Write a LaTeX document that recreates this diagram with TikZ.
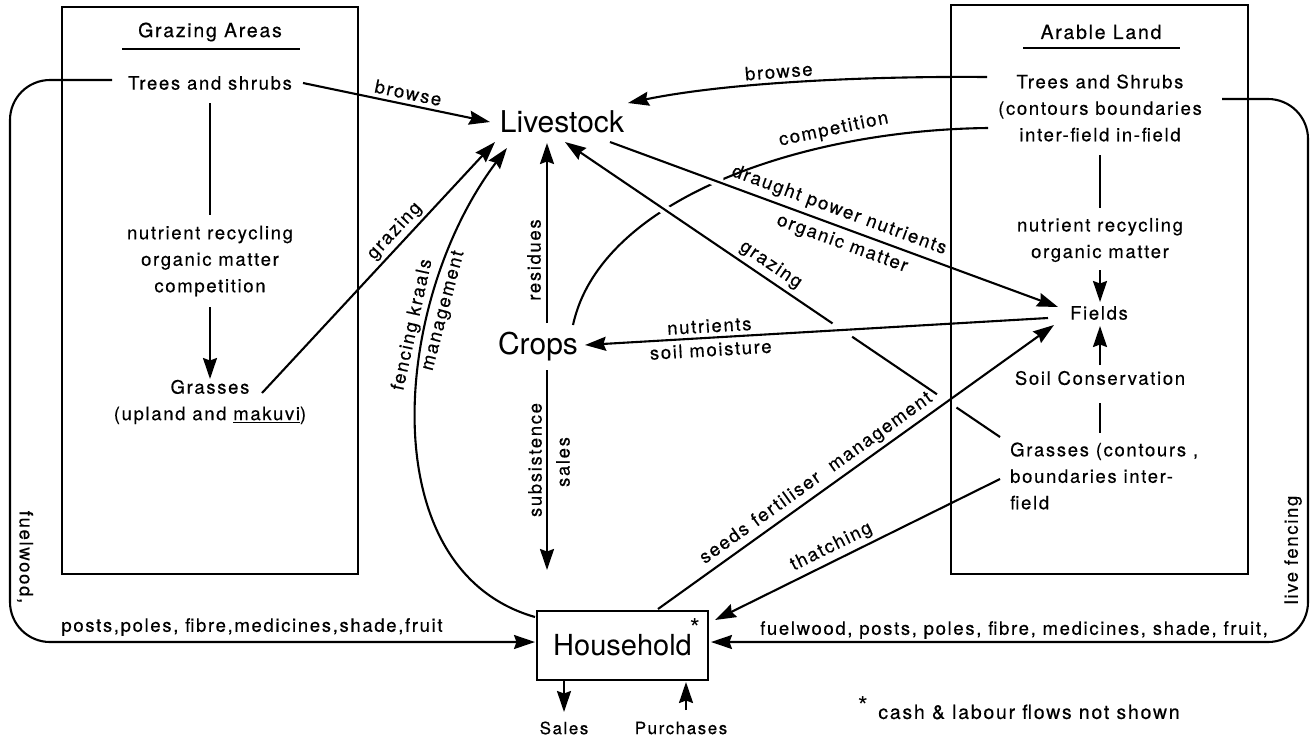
\documentclass[tikz,border=0pt]{standalone}
\usepackage{fontspec}
\setmainfont{TeX Gyre Heros}[LetterSpace=9,FakeBold=0.4]
\newfontfamily\bigf{TeX Gyre Heros}
\usetikzlibrary{arrows.meta,calc}
\begin{document}
\begin{tikzpicture}[x=1pt,y=-1pt,
  every node/.style={inner sep=0pt, font=\fontsize{18.5}{26.5}\selectfont},
  big/.style={font=\bigf\fontsize{30}{34}\selectfont},
  small/.style={font=\fontsize{17}{20}\selectfont},
  ttl/.style={font=\fontsize{19.5}{22}\selectfont},
  note/.style={font=\fontsize{19.5}{22}\selectfont},
  starf/.style={font=\bigf\fontsize{26}{26}\selectfont},
  ln/.style={line width=2.1pt},
  tip/.style={-{Stealth[length=21pt,width=14pt,inset=2.5pt]}},
  arr/.style={line width=2.1pt, tip},
  rarr/.style={line width=2.1pt, {Stealth[length=21pt,width=14pt,inset=2.5pt]}-},
  boxl/.style={line width=2.9pt},
  gapw/.style={draw=white, line width=10pt},
]
\path[use as bounding box, fill=white] (0,0) rectangle (1314,740);

% ---------- text nodes ----------
\node[ttl] (gtitle) at (210,32) {Grazing Areas};
\node[ttl] (atitle) at (1101,32) {Arable Land};
\node (gtrees) at (210,83) {Trees and shrubs};
\node[align=center] (gnut) at (210,261) {nutrient recycling\\organic matter\\competition};
\node[align=center] (ggrass) at (210,402) {Grasses\\(upland and \underline{makuvi})};
\node[align=center] (atrees) at (1100,108) {Trees and Shrubs\\(contours boundaries\\inter-field in-field};
\node[align=center] (anut) at (1100,240) {nutrient recycling\\organic matter};
\node (fields) at (1099,313) {Fields};
\node (soil) at (1100,378) {Soil Conservation};
\node[align=left, anchor=west] (agrass) at (1010,476) {Grasses (contours ,\\boundaries inter-\\field};
\node[big] (livestock) at (562,122) {Livestock};
\node[big] (crops) at (538,347) {Crops};
\node[draw, boxl, minimum width=171pt, minimum height=69pt,
      font=\bigf\fontsize{29}{32}\selectfont] (household) at (622.5,645.5) {Household};
\node[starf] (hstar) at (695,628) {*};
\node[small] (sales) at (564,728) {Sales};
\node[small] (purch) at (681,728) {Purchases};
\node[starf] (nstar) at (863,706) {*};
\node[note] (note) at (1029,712) {cash \& labour flows not shown};

% ---------- underlines ----------
\draw[ln] (122,49) -- (300,49);
\draw[ln] (1023,48) -- (1180,48);

% ---------- endpoint coordinates ----------
\coordinate (gtE) at (303,83);
\coordinate (gtW) at (112,80);
\coordinate (gtS) at (210,103);
\coordinate (gnN) at (210,215);
\coordinate (gnS) at (210,307);
\coordinate (ggN) at (210,379);
\coordinate (ggE) at (262,393);
\coordinate (atW1) at (987,77);
\coordinate (atW2) at (988,128);
\coordinate (atE) at (1222,99);
\coordinate (atS) at (1100,155);
\coordinate (anN) at (1100,208);
\coordinate (anS) at (1100,270);
\coordinate (fdN) at (1100,302);
\coordinate (fdS) at (1100,326);
\coordinate (soN) at (1100,365);
\coordinate (soS) at (1100,403);
\coordinate (agN) at (1100,433);
\coordinate (agNW) at (1000,437);
\coordinate (agW) at (1000,479);
\coordinate (fdW1) at (1058,307);
\coordinate (fdW2) at (1048,318);
\coordinate (fdSW) at (1054,325);
\coordinate (lsW) at (490,122);
\coordinate (lsNE) at (628,103);
\coordinate (lsSW) at (495,142);
\coordinate (lsS1) at (507,148);
\coordinate (lsS2) at (547,143);
\coordinate (lsS3) at (565,142);
\coordinate (lsSE) at (610,142);
\coordinate (crN) at (547,323);
\coordinate (crNE) at (573,325);
\coordinate (crE) at (585,345);
\coordinate (crS) at (547,370);
\coordinate (hhN1) at (547,570);
\coordinate (hhNW) at (535,617);
\coordinate (hhN2) at (658,609);
\coordinate (hhNE) at (715,620);
\coordinate (hhW) at (535,642);
\coordinate (hhE) at (711,642);
\coordinate (hhS1) at (564,681);
\coordinate (salN) at (564,712);
\coordinate (purN) at (686,710);
\coordinate (hhS2) at (686,682);

% ---------- competition curve (under) ----------
\draw[ln] (crNE) .. controls (600,200) and (800,130) ..
  node[pos=0.73, sloped, above=5pt] {competition} (atW2);
% gaps in it
\draw[gapw] ($(lsSE)!0.16!(fdW1)$) -- ($(lsSE)!0.25!(fdW1)$);
\draw[gapw] ($(lsS3)!0.17!(agNW)$) -- ($(lsS3)!0.25!(agNW)$);

% ---------- connectors ----------
\draw[arr] (gtE) -- node[pos=0.55, sloped, above=4pt] {browse} (lsW);
\draw[rarr] (lsNE) .. controls (720,84) and (850,76) ..
  node[pos=0.47, sloped, above=4pt] {browse} (atW1);
\draw[arr] (ggE) -- node[pos=0.61, sloped, above=3pt] {grazing} (lsSW);
\draw[arr] (hhNW) .. controls (370,570) and (392,300) ..
  node[pos=0.665, sloped, above=4pt] {fencing kraals}
  node[pos=0.70, sloped, below=4pt] {management} (lsS1);
\draw[arr] (crN) -- node[pos=0.35, sloped, above=5pt] {residues} (lsS2);
\draw[arr] (lsSE) -- node[pos=0.5, sloped, above=5pt] {draught power nutrients}
  node[pos=0.53, sloped, below=6pt] {organic matter} (fdW1);
\draw[rarr] (lsS3) -- node[pos=0.74, sloped, above=4pt] {grazing} ($(lsS3)!0.615!(agNW)$);
\draw[ln] ($(lsS3)!0.66!(agNW)$) -- ($(lsS3)!0.855!(agNW)$);
\draw[ln] ($(lsS3)!0.90!(agNW)$) -- (agNW);
\draw[rarr] (crE) -- node[pos=0.27, sloped, above=4pt] {nutrients}
  node[pos=0.27, sloped, below=4pt] {soil moisture} (fdW2);
\draw[arr] (crS) -- (hhN1);
\node[rotate=90] (subs) at (535,460) {subsistence};
\node[rotate=90] (csales) at (563,462) {sales};
\draw[arr] (hhN2) -- node[pos=0.42, sloped, above=4pt]
  {seeds\hspace{8pt}fertiliser\hspace{14pt}management} (fdSW);
\draw[rarr] (hhNE) -- node[pos=0.43, sloped, above=4pt] {thatching} (agW);
\draw[arr, rounded corners=40pt] (gtW) -- (10,80) -- (10,642) -- (hhW);
\node[rotate=-90] (fuelL) at (25,557) {fuelwood,};
\node (postsL) at (252,627) {posts,poles, fibre,medicines,shade,fruit};
\draw[arr, rounded corners=40pt] (atE) -- (1308,99) -- (1308,642) -- (hhE);
\node[rotate=90] (livef) at (1293,550) {live fencing};
\node (postsR) at (1014,630) {fuelwood, posts, poles, fibre, medicines, shade, fruit,};
\draw[arr] (hhS1) -- (salN);
\draw[arr] (purN) -- (hhS2);

% inside boxes
\draw[ln] (gtS) -- (gnN);
\draw[arr] (gnS) -- (ggN);
\draw[ln] (atS) -- (anN);
\draw[arr] (anS) -- (fdN);
\draw[arr] (soN) -- (fdS);
\draw[ln] (soS) -- (agN);

% ---------- boxes ----------
\draw[boxl] (62,7) rectangle (358,574);
\draw[boxl] (951,5) rectangle (1248,574);
\end{tikzpicture}
\end{document}
